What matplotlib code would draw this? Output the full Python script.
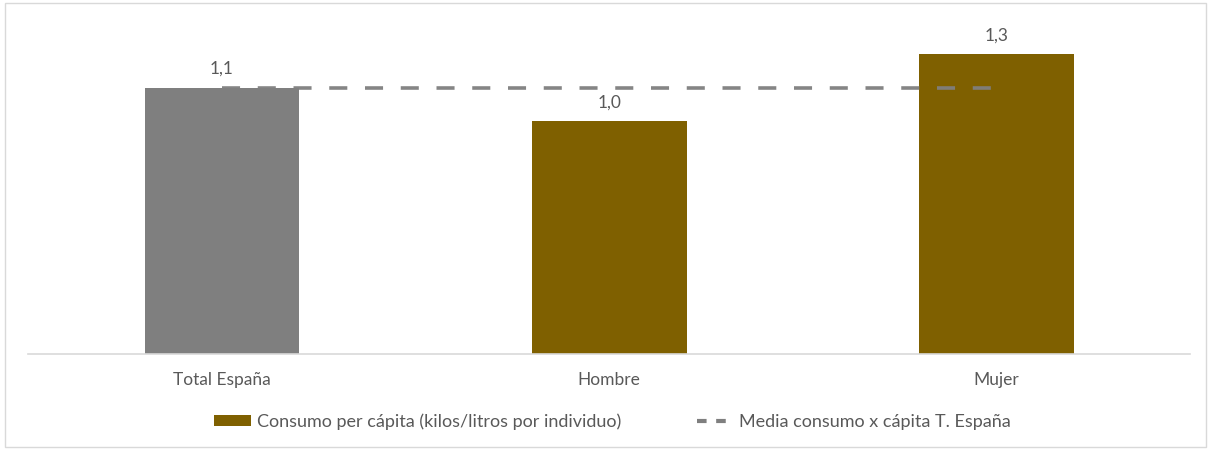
import matplotlib.pyplot as plt
from matplotlib.patches import Rectangle
from matplotlib.lines import Line2D
import numpy as np

# Datos
categorias = ["Total España", "Hombre", "Mujer"]
consumo = [1.11, 0.97, 1.25]
etiquetas = ["1,1", "1,0", "1,3"]
media_espana = [1.11, 1.11, 1.11]

GRIS = "#7f7f7f"
MARRON = "#7f6000"
TEXTO = "#595959"

plt.rcParams["font.family"] = ["Lato", "DejaVu Sans"]

fig = plt.figure(figsize=(12.11, 4.5), dpi=100)
ax = fig.add_axes([0.0235, 0.2133, 0.9592, 0.7467])

x = np.arange(len(categorias))
colores = [GRIS, MARRON, MARRON]
bars = ax.bar(x, consumo, width=0.4, color=colores, zorder=2)

for bar, lab in zip(bars, etiquetas):
    ax.text(bar.get_x() + bar.get_width() / 2, bar.get_height() + 0.045, lab,
            ha="center", va="bottom", fontsize=12.5, color=TEXTO)

ax.plot(x, media_espana, color=GRIS, linewidth=2.6, dashes=(5.0, 4.9), zorder=3,
        alpha=0.95)

ax.set_xlim(-0.5, 2.5)
ax.set_ylim(0, 1.4)
ax.set_xticks(x)
ax.set_xticklabels(categorias, fontsize=12.5, color=TEXTO)
ax.tick_params(axis="x", length=0, pad=13)
ax.set_yticks([])
for s in ["top", "right", "left"]:
    ax.spines[s].set_visible(False)
ax.spines["bottom"].set_color("#d9d9d9")
ax.spines["bottom"].set_linewidth(1.2)

handles = [
    Rectangle((0, 0), 1, 1, facecolor=MARRON),
    Line2D([0], [0], color=GRIS, linewidth=3, dashes=(2.3, 2.3)),
]
leg = fig.legend(handles,
                 ["Consumo per cápita (kilos/litros por individuo)",
                  "Media consumo x cápita T. España"],
                 loc="center", bbox_to_anchor=(0.506, 0.063), ncol=2,
                 frameon=False, fontsize=13, handlelength=2.0,
                 handleheight=0.55, columnspacing=4.2, handletextpad=0.35)
for t in leg.get_texts():
    t.set_color(TEXTO)

# marco exterior
fig.patches.append(Rectangle((0.004, 0.006), 0.992, 0.988, transform=fig.transFigure,
                             fill=False, edgecolor="#d9d9d9", linewidth=1))

fig.savefig("out.png", dpi=100)
